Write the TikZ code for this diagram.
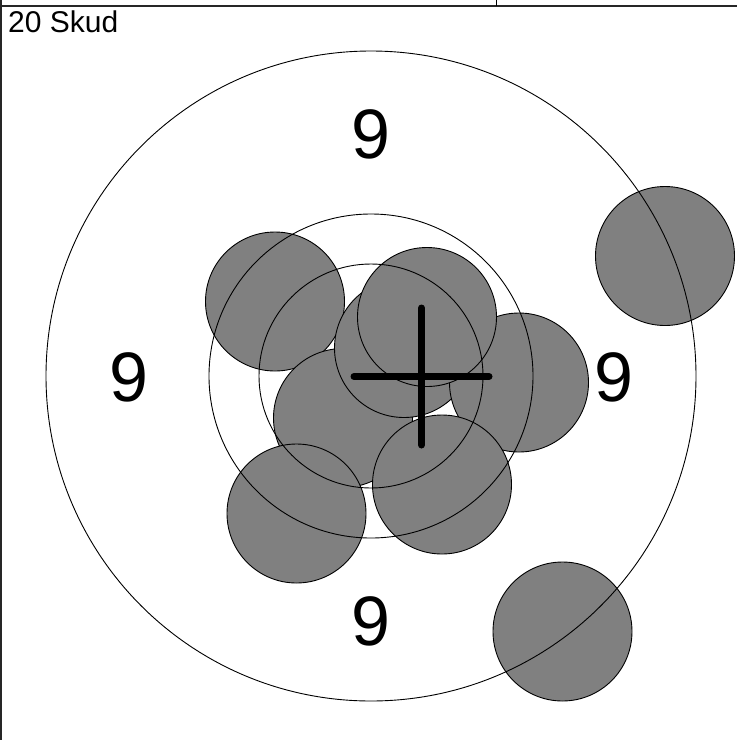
\documentclass[tikz,border=0pt]{standalone}
\usepackage{fontspec}
\setmainfont{Liberation Sans}
\definecolor{shotgray}{HTML}{808080}
\begin{document}
\begin{tikzpicture}[x=1pt,y=-1pt,
  ring/.style={draw=black,line width=0.9pt},
  shot/.style={fill=shotgray,draw=black,line width=0.9pt},
  crossbar/.style={line width=7pt,line cap=round},
  ninelabel/.style={font=\fontsize{70}{84}\selectfont,inner sep=0pt},
  frame/.style={line width=2pt,draw=black!85}]
\useasboundingbox (0,0) rectangle (737,740);
% shots (each filled and outlined in turn; later ones cover earlier ones)
\def\shots{(275,301.5),(343,418),(296.5,513.5),(404,348),(519,382.5),(427,317),(442,484.5),(665,256),(562.5,631.5)}
\foreach \p in \shots { \draw[shot] \p circle (69.5); }
% rings
\coordinate (c) at (371,376);
\draw[ring] (c) circle (325);
\draw[ring] (c) circle (162);
\draw[ring] (c) circle (112);
% crosshair
\coordinate (xl) at (354,376.5);
\coordinate (xr) at (489,376.5);
\coordinate (xt) at (421.5,308);
\coordinate (xb) at (421.5,445);
\draw[crossbar] (xl) -- (xr);
\draw[crossbar] (xt) -- (xb);
% labels
\node[ninelabel] (ntop) at (371,134) {9};
\node[ninelabel] (nleft) at (128.5,377) {9};
\node[ninelabel] (nright) at (614,377) {9};
\node[ninelabel] (nbottom) at (371,621) {9};
\node[font=\fontsize{30}{36}\selectfont,anchor=north west,inner sep=0pt] (title) at (8,11) {20 Skud};
% frame
\coordinate (tl) at (0,6);
\coordinate (tr) at (737,6);
\coordinate (lt) at (1,0);
\coordinate (bl) at (1,740);
\coordinate (tt) at (496,0);
\coordinate (tb) at (496,6);
\draw[frame] (tl) -- (tr);
\draw[frame] (lt) -- (bl);
\draw[line width=1pt] (tt) -- (tb);
\end{tikzpicture}
\end{document}
